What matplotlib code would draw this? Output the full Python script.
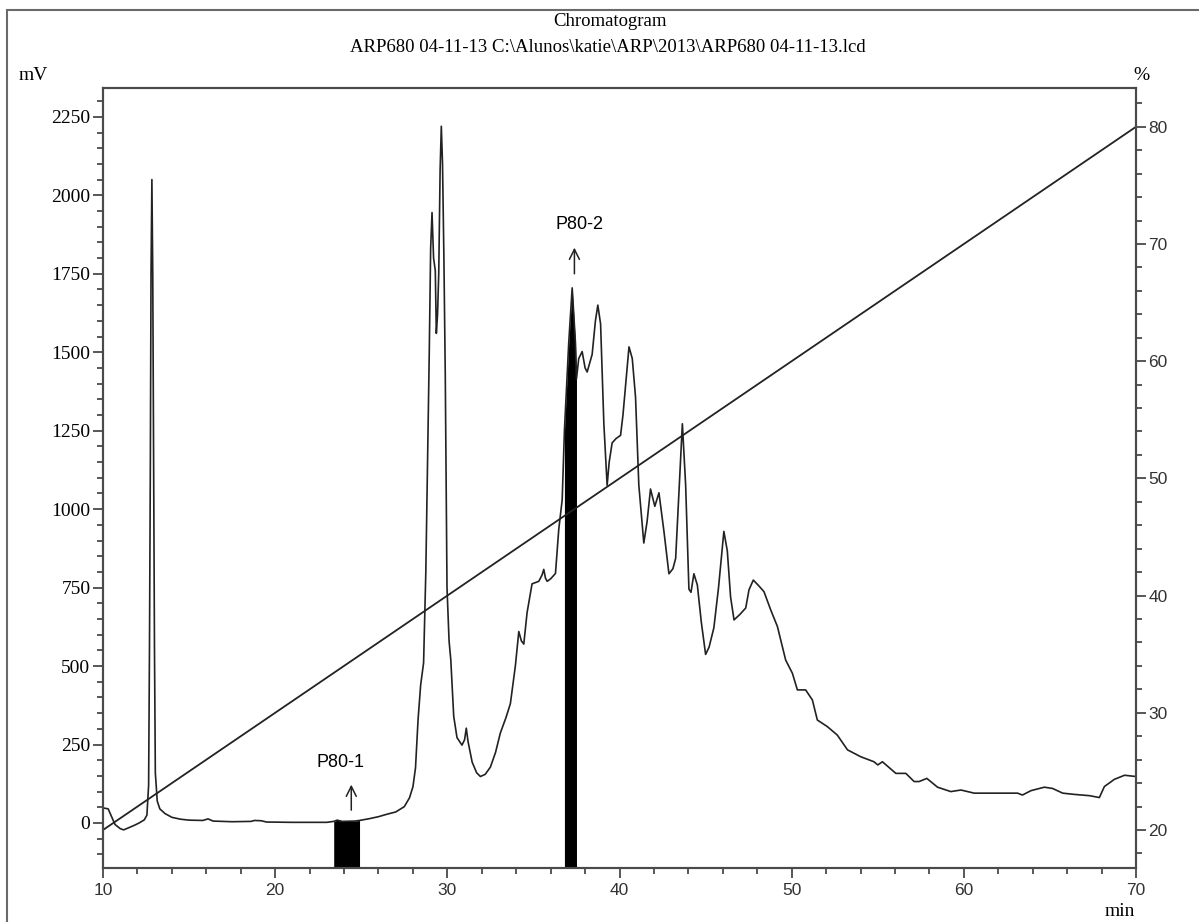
import numpy as np
import matplotlib.pyplot as plt
from matplotlib.ticker import MultipleLocator
from matplotlib.patches import Rectangle

# chromatogram trace
time_min = [10.0, 10.3, 10.5, 10.7, 11.0, 11.2, 11.5, 11.8, 12.1, 12.4,
            12.55, 12.65, 12.7, 12.75, 12.79, 12.84, 12.89, 12.94, 12.99, 13.04,
            13.15, 13.3, 13.6, 14.0, 14.5, 15.0, 15.8, 16.1, 16.4, 17.5,
            18.6, 18.8, 19.2, 19.5, 21.0, 23.0, 23.4, 23.6, 23.9, 24.6,
            24.9, 25.5, 26.0, 26.5, 27.0, 27.5, 27.8, 28.0, 28.15, 28.3,
            28.45, 28.62, 28.75, 28.85, 28.95, 29.03, 29.08, 29.11, 29.2, 29.3,
            29.36, 29.43, 29.5, 29.58, 29.65, 29.72, 29.8, 29.88, 29.98, 30.1,
            30.2, 30.37, 30.56, 30.85, 31.0, 31.1, 31.2, 31.44, 31.7, 31.92,
            32.2, 32.5, 32.8, 33.08, 33.4, 33.66, 33.95, 34.15, 34.3, 34.44,
            34.63, 34.92, 35.31, 35.5, 35.6, 35.7, 35.8, 36.0, 36.28, 36.47,
            36.67, 36.8, 37.05, 37.25, 37.44, 37.5, 37.63, 37.83, 38.0, 38.12,
            38.41, 38.6, 38.74, 38.9, 39.09, 39.28, 39.4, 39.57, 39.8, 40.06,
            40.2, 40.35, 40.55, 40.74, 40.93, 41.12, 41.41, 41.6, 41.8, 42.05,
            42.29, 42.58, 42.87, 43.1, 43.26, 43.45, 43.65, 43.84, 44.03, 44.15,
            44.32, 44.52, 44.75, 45.0, 45.2, 45.48, 45.75, 46.06, 46.26, 46.45,
            46.65, 47.0, 47.33, 47.52, 47.77, 48.1, 48.39, 48.78, 49.17, 49.65,
            50.04, 50.33, 50.81, 51.2, 51.49, 52.07, 52.65, 53.24, 54.01, 54.78,
            55.0, 55.27, 56.05, 56.63, 57.11, 57.4, 57.85, 58.47, 59.24, 59.83,
            60.6, 63.12, 63.4, 63.9, 64.67, 65.15, 65.74, 66.42, 67.29, 67.87,
            68.16, 68.74, 69.33, 70.0]
signal_mv = [48, 45, 20, -5, -18, -22, -15, -8, 0, 10,
             25, 120, 560, 1140, 1750, 2050, 1750, 1140, 560, 160,
             70, 45, 30, 18, 12, 9, 8, 13, 6, 4,
             5, 8, 7, 3, 2, 2, 5, 9, 5, 6,
             8, 14, 20, 28, 35, 52, 80, 115, 175, 330,
             440, 510, 800, 1150, 1500, 1830, 1900, 1945, 1800, 1760,
             1560, 1620, 1750, 2080, 2220, 2100, 1800, 1425, 750, 580,
             520, 340, 272, 248, 265, 302, 260, 194, 160, 148,
             155, 178, 225, 287, 335, 380, 500, 610, 580, 570,
             670, 762, 770, 790, 808, 780, 770, 778, 795, 935,
             1030, 1250, 1530, 1705, 1530, 1415, 1480, 1502, 1450, 1437,
             1493, 1600, 1650, 1590, 1272, 1076, 1150, 1211, 1225, 1235,
             1300, 1394, 1517, 1480, 1357, 1077, 892, 960, 1064, 1009,
             1052, 929, 794, 810, 843, 1050, 1272, 1077, 745, 735,
             794, 758, 640, 537, 560, 622, 750, 929, 867, 720,
             647, 665, 685, 743, 774, 755, 737, 679, 626, 519,
             477, 424, 424, 392, 328, 307, 280, 233, 211, 195,
             185, 195, 158, 158, 132, 132, 142, 114, 100, 105,
             95, 95, 89, 103, 114, 110, 95, 91, 87, 81,
             116, 139, 152, 148]

# solvent gradient (%B)
grad_time = [10, 70]
grad_pct = [20, 80]

# collected fractions
frac_names = ['P80-1', 'P80-2']
frac_start = [23.4, 36.8]
frac_end = [24.9, 37.5]

t = np.array(time_min)
y = np.array(signal_mv)

serif = 'Liberation Serif'
sans = 'Liberation Sans'
ink = '#222222'
frame = '#4a4a4a'

fig = plt.figure(figsize=(11.99, 9.22), dpi=100)
ax = fig.add_axes([0.0859, 0.0586, 0.8616, 0.846])

ymin, ymax = -143.4, 2342
ax.plot(t, y, color=ink, lw=1.2)
for s, e in zip(frac_start, frac_end):
    m = (t >= s) & (t <= e)
    ax.fill_between(t[m], ymin, y[m], color='black', lw=0)

ax.set_xlim(10, 70)
ax.set_ylim(ymin, ymax)
ax.xaxis.set_major_locator(MultipleLocator(10))
ax.xaxis.set_minor_locator(MultipleLocator(2))
ax.yaxis.set_major_locator(MultipleLocator(250))
ax.yaxis.set_minor_locator(MultipleLocator(50))

ax2 = ax.twinx()
ax2.plot(grad_time, grad_pct, color=ink, lw=1.3)
ax2.set_ylim(16.76, 83.31)
ax2.yaxis.set_major_locator(MultipleLocator(10))
ax2.yaxis.set_minor_locator(MultipleLocator(2))

for a in (ax, ax2):
    for sp in a.spines.values():
        sp.set_color(frame)
        sp.set_linewidth(1.5)
    a.tick_params(which='major', length=7, width=1.3, color=frame, direction='out')
    a.tick_params(which='minor', length=4, width=1.3, color=frame, direction='out')

ax.tick_params(axis='y', pad=2)
ax.tick_params(axis='x', pad=4)
ax2.tick_params(axis='y', pad=2)
for lab in ax.get_yticklabels():
    lab.set_fontfamily(serif)
    lab.set_fontsize(14)
for lab in ax.get_xticklabels() + ax2.get_yticklabels():
    lab.set_fontfamily(sans)
    lab.set_fontsize(12.5)
    lab.set_color('#333333')

# fraction markers
ax.annotate('', xy=(24.42, 131), xytext=(24.42, 32),
            arrowprops=dict(arrowstyle='->', lw=1.1, color=ink, mutation_scale=18))
ax.text(23.8, 194, frac_names[0], ha='center', va='center', fontsize=13, family=sans)
ax.annotate('', xy=(37.38, 1842), xytext=(37.38, 1741),
            arrowprops=dict(arrowstyle='->', lw=1.1, color=ink, mutation_scale=18))
ax.text(37.67, 1906, frac_names[1], ha='center', va='center', fontsize=13, family=sans)

# header and unit labels
fig.text(610 / 1199, 1 - 21 / 922, 'Chromatogram', ha='center', va='center',
         family=serif, fontsize=13.5)
fig.text(608 / 1199, 1 - 47 / 922,
         'ARP680 04-11-13 C:\\Alunos\\katie\\ARP\\2013\\ARP680 04-11-13.lcd',
         ha='center', va='center', family=serif, fontsize=13.5)
fig.text(33 / 1199, 1 - 76 / 922, 'mV', ha='center', va='center', family=serif, fontsize=14)
fig.text(1141 / 1199, 1 - 76 / 922, '%', ha='center', va='center', family=serif, fontsize=14)
fig.text(1120 / 1199, 1 - 911 / 922, 'min', ha='center', va='center', family=serif, fontsize=14)

fig.patches.append(Rectangle((7 / 1199, -0.05), 1.1, 1.05 - 10 / 922, fill=False,
                             edgecolor='#6a6a6a', lw=1.5, transform=fig.transFigure))

fig.savefig('out.png', dpi=100)
